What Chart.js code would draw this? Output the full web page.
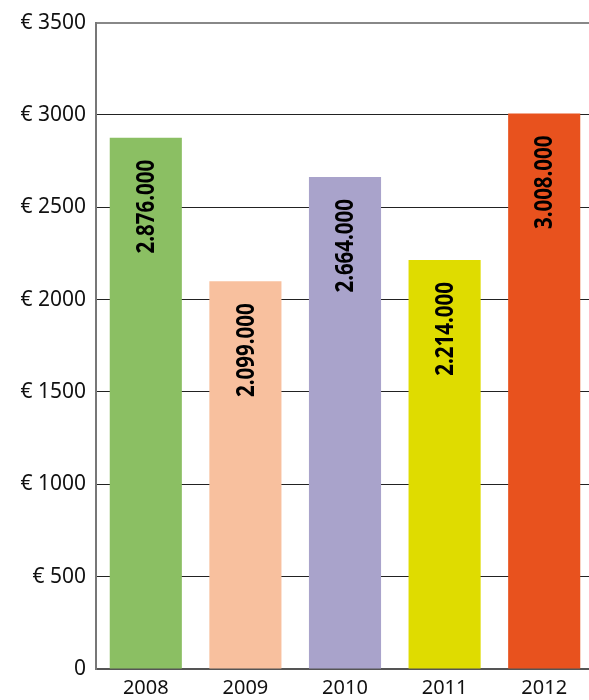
<!DOCTYPE html>
<html>
<head>
<meta charset="utf-8">
<script src="https://cdn.jsdelivr.net/npm/chart.js@4/dist/chart.umd.min.js"></script>
<style>
  html, body { margin: 0; padding: 0; background: #fff; overflow: hidden; }
  #wrap { width: 600px; height: 700px; }
</style>
</head>
<body>
<div id="wrap"><canvas id="revenueChart" width="600" height="700"></canvas></div>
<script>
// data
const years = ['2008', '2009', '2010', '2011', '2012'];
const amounts = [2876, 2099, 2664, 2214, 3008];
const amountLabels = ['2.876.000', '2.099.000', '2.664.000', '2.214.000', '3.008.000'];
const barColors = ['#8bbf63', '#f8c09e', '#a9a3cb', '#dfdc00', '#e8521e'];
const yTicks = [0, 500, 1000, 1500, 2000, 2500, 3000, 3500];

// vertical value labels inside the bars (squeezed a bit, the original font is narrow)
const barLabels = {
    id: 'barLabels',
    afterDatasetsDraw(chart) {
        const ctx = chart.ctx;
        const meta = chart.getDatasetMeta(0);
        ctx.save();
        ctx.fillStyle = '#000';
        ctx.font = "bold 25px 'Noto Sans', sans-serif";
        ctx.textAlign = 'right';
        ctx.textBaseline = 'middle';
        meta.data.forEach((bar, i) => {
            ctx.save();
            ctx.translate(bar.x + 1, bar.y + 22);
            ctx.rotate(-Math.PI / 2);
            ctx.scale(0.82, 1);
            ctx.fillText(amountLabels[i], 0, 0);
            ctx.restore();
        });
        ctx.restore();
    }
};

new Chart(document.getElementById('revenueChart'), {
    type: 'bar',
    data: {
        labels: years,
        datasets: [{
            data: amounts,
            backgroundColor: barColors,
            borderWidth: 0,
            barPercentage: 0.724,
            categoryPercentage: 1
        }]
    },
    options: {
        responsive: false,
        animation: false,
        layout: { padding: { top: 21, right: 6, left: 0, bottom: 0 } },
        plugins: {
            legend: { display: false },
            tooltip: { enabled: false }
        },
        scales: {
            x: {
                grid: { display: false, drawTicks: false },
                border: { color: '#555', width: 2 },
                ticks: {
                    color: '#111',
                    font: { family: "'Noto Sans', sans-serif", size: 20, lineHeight: 1 },
                    padding: 9
                },
                afterFit(scale) { scale.height = 31; }
            },
            y: {
                min: 0,
                max: 3500,
                afterBuildTicks(scale) {
                    scale.ticks = yTicks.map(v => ({ value: v }));
                },
                grid: {
                    drawTicks: false,
                    color: ctx => ctx.tick && ctx.tick.value === 3500 ? '#888' : '#222',
                    lineWidth: ctx => ctx.tick && ctx.tick.value === 3500 ? 2 : 1
                },
                border: { color: '#777', width: 2 },
                ticks: {
                    color: '#111',
                    padding: 10,
                    font: { family: "'Noto Sans', sans-serif", size: 21 },
                    callback: v => v === 0 ? '0' : '€ ' + v
                },
                afterFit(scale) { scale.width = 96; }
            }
        }
    },
    plugins: [barLabels]
});
</script>
</body>
</html>
